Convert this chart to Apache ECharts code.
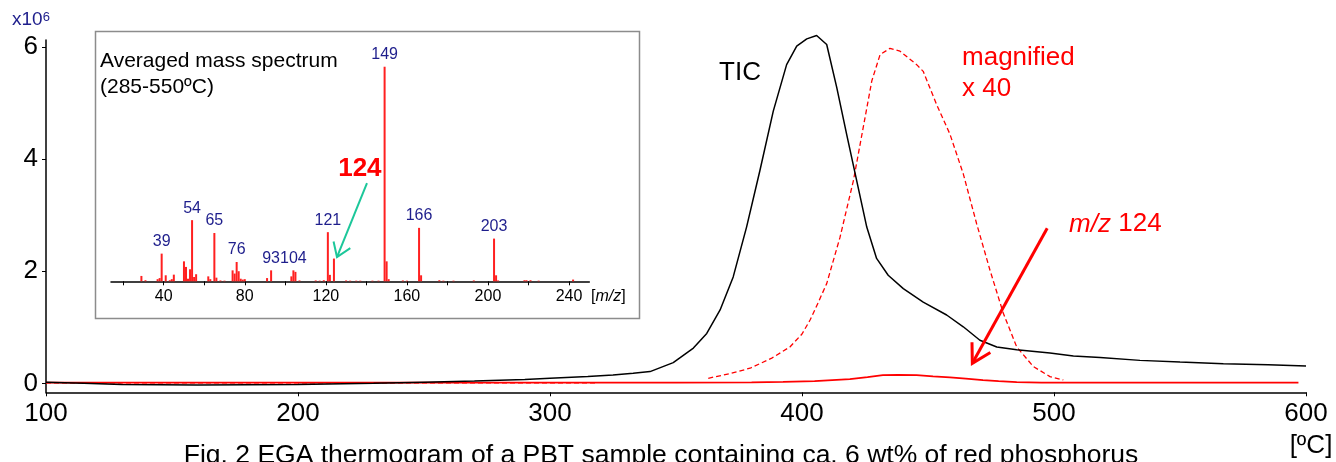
<!DOCTYPE html>
<html><head><meta charset="utf-8">
<script src="https://cdn.jsdelivr.net/npm/echarts@6/dist/echarts.min.js"></script>
<style>html,body{margin:0;padding:0;background:#fff}#c{width:1336px;height:462px}</style>
</head><body><div id="c"></div>
<script>
// ---- Main EGA thermogram data (temperature in degC, intensity x10^6) ----
const ticTemp = [100,115,130,160,200,230,250,270,290,300,315,325,333,339.7,348.9,356.9,362.2,367.5,372.7,378.0,383.3,388.6,393.9,397.9,401.9,405.8,409.8,413.8,417.7,421.7,425.7,429.6,434.2,440.2,448.1,457.4,464.0,470.6,477.3,485.2,498.4,507.7,518.3,534.1,550,567.2,585,600];
const ticVal  = [0.02,0.0,-0.02,-0.03,-0.02,0.0,0.02,0.04,0.07,0.09,0.12,0.15,0.18,0.21,0.37,0.63,0.89,1.31,1.90,2.79,3.80,4.86,5.69,6.02,6.15,6.21,6.05,5.28,4.45,3.62,2.79,2.23,1.93,1.69,1.45,1.22,1.01,0.77,0.65,0.60,0.54,0.49,0.46,0.41,0.38,0.35,0.33,0.31];

const mz124Temp = [100,200,300,350,380,392.5,405,419,426,432.1,438,445.5,452,458.7,465,471.8,478,485.2,495,597];
const mz124Val  = [0.012,0.012,0.012,0.013,0.018,0.025,0.04,0.075,0.11,0.145,0.152,0.145,0.125,0.107,0.085,0.058,0.038,0.02,0.012,0.012];

const magBaseTemp = [100,200,318];
const magBaseVal  = [0.01,0.01,0.01];
const magTemp = [362.8,371,379.4,388,395.2,400,403.2,406.5,409.8,415.1,420.4,424.3,427.7,431.0,434.9,438.9,445.5,448.1,453.4,458.7,464.0,469.3,474.6,479.9,485.2,491.8,498.4,503.7];
const magVal  = [0.09,0.17,0.27,0.45,0.65,0.88,1.13,1.45,1.78,2.61,3.62,4.57,5.40,5.87,5.98,5.93,5.69,5.57,4.98,4.45,3.74,2.85,2.02,1.25,0.65,0.30,0.12,0.06];

const mainXTicks = [100,200,300,400,500,600];
const mainYTicks = [0,2,4,6];

// ---- Inset averaged mass spectrum (m/z, relative intensity, 149 = 100) ----
const msMz  = [29,31,37,38,39,41,43,44,45,50,51,52,53,54,55,56,62,63,65,66,68,70,74,75,76,77,78,79,80,91,93,103,104,105,107,115,117,119,121,122,124,130,132,135,137,143,146,149,150,151,158,160,166,167,176,178,183,193,203,204,205,218,219,221,225,242];
const msInt = [2.5,0.5,1.0,1.5,12.9,2.8,0.5,1.0,3.1,9.3,6.7,1.2,5.6,28.5,2.0,3.3,2.3,1.0,22.5,1.7,0.4,0.3,5.1,3.6,9.0,4.7,1.2,0.8,1.0,1.5,5.1,2.3,5.1,4.4,0.4,0.4,0.3,0.5,22.9,3.0,10.6,0.4,0.3,0.3,0.3,0.3,0.3,100,9.3,1.0,0.4,0.3,24.9,2.8,0.5,0.3,0.3,0.4,19.9,2.8,0.4,0.5,0.5,0.5,0.3,0.8];
const msLabelled = [39,54,65,76,93,104,121,149,166,203];
const insetTicks = [20,40,60,80,100,120,140,160,180,200,220,240];
const insetLabels = [40,80,120,160,200,240];

// ---- annotations (data coordinates) ----
const ticText = [375.4, 5.55];
const magText = [463.5, 5.81];
const x40Text = [463.5, 5.25];
const mzText = [506.0, 2.84];
const redArrow = {tail:[497.3, 2.768], tip:[467.6, 0.357]};
const text124 = [136.8, 52.3];
const greenArrow = {tail:[140.3, 45.8], tip:[125.5, 11.3]};

const FONT = "'Liberation Sans', Arial, Helvetica, sans-serif";
const NAVY = '#1e1e8c';
const zip = (a,b) => a.map((t,i) => [t,b[i]]);

const chart = echarts.init(document.getElementById('c'));
const msData = msMz.map((m,i) => {
  const item = {value:[m, msInt[i]]};
  if (msLabelled.indexOf(m) >= 0) item.label = {show:true};
  return item;
});

const option = {
  animation:false,
  backgroundColor:'#fff',
  textStyle:{fontFamily:FONT},
  grid:[
    {left:46, top:40, width:1260, height:352.3},
    {left:111, top:56, width:478.3, height:225.3}
  ],
  xAxis:[
    {type:'value', gridIndex:0, min:100, max:600, interval:100,
     axisLine:{onZero:false, lineStyle:{color:'#000', width:1.5}},
     axisTick:{length:4, lineStyle:{color:'#000', width:1}},
     splitLine:{show:false},
     axisLabel:{fontSize:26, color:'#000', fontFamily:FONT, margin:9}},
    {type:'value', gridIndex:1, min:14, max:250,
     axisLine:{onZero:false, lineStyle:{color:'#000', width:1.5}},
     axisTick:{show:true, customValues:insetTicks, length:4, lineStyle:{color:'#000', width:1}},
     splitLine:{show:false},
     axisLabel:{customValues:insetLabels, fontSize:16, color:'#000', fontFamily:FONT, margin:7}}
  ],
  yAxis:[
    {type:'value', gridIndex:0, min:-0.16, max:6.13,
     axisLine:{show:true, onZero:false, lineStyle:{color:'#000', width:1.5}},
     axisTick:{show:true, customValues:mainYTicks, length:4, lineStyle:{color:'#000', width:1}},
     splitLine:{show:false},
     axisLabel:{customValues:mainYTicks, fontSize:26, color:'#000', fontFamily:FONT, margin:8}},
    {type:'value', gridIndex:1, min:0, max:105, show:false}
  ],
  series:[
    {name:'magnified base', type:'line', xAxisIndex:0, yAxisIndex:0, data:zip(magBaseTemp, magBaseVal),
     showSymbol:false, clip:false, lineStyle:{color:'#ff0000', width:1.3, type:[5,3]}, z:2},
    {name:'magnified x40', type:'line', xAxisIndex:0, yAxisIndex:0, data:zip(magTemp, magVal),
     showSymbol:false, clip:false, lineStyle:{color:'#ff0000', width:1.3, type:[5,3]}, z:2},
    {name:'m/z 124', type:'line', xAxisIndex:0, yAxisIndex:0, data:zip(mz124Temp, mz124Val),
     showSymbol:false, clip:false, lineStyle:{color:'#ff0000', width:1.8}, z:3},
    {name:'TIC', type:'line', xAxisIndex:0, yAxisIndex:0, data:zip(ticTemp, ticVal),
     showSymbol:false, clip:false, lineStyle:{color:'#000', width:1.5}, z:4},
    {name:'MS', type:'bar', xAxisIndex:1, yAxisIndex:1, data:msData, barWidth:2,
     itemStyle:{color:'#ff2020'},
     label:{show:false, position:'top', distance:4, color:NAVY, fontSize:16, fontFamily:FONT,
            formatter:p => String(p.value[0])}}
  ]
};
chart.setOption(option);

const P0 = v => chart.convertToPixel({gridIndex:0}, v);
const P1 = v => chart.convertToPixel({gridIndex:1}, v);
function arrow(tail, tip, len, ang, color, w) {
  const a = Math.atan2(tail[1]-tip[1], tail[0]-tip[0]);
  const b1 = [tip[0]+len*Math.cos(a+ang), tip[1]+len*Math.sin(a+ang)];
  const b2 = [tip[0]+len*Math.cos(a-ang), tip[1]+len*Math.sin(a-ang)];
  return [
    {type:'line', shape:{x1:tail[0], y1:tail[1], x2:tip[0], y2:tip[1]}, style:{stroke:color, lineWidth:w}, z:20},
    {type:'polyline', shape:{points:[b1, tip, b2]}, style:{stroke:color, lineWidth:w, fill:null}, z:20}
  ];
}
const txt = (x, y, text, extra) => Object.assign({type:'text', x:x, y:y, z:20,
  style:Object.assign({text:text, fontFamily:FONT, fontSize:26, fill:'#000', textAlign:'left', textVerticalAlign:'middle'}, extra||{})});

const tic = P0(ticText), mag = P0(magText), x40 = P0(x40Text), mzt = P0(mzText);
const t124 = P1(text124);
const graphics = [
  {type:'rect', shape:{x:95.5, y:31.5, width:544, height:287}, style:{stroke:'#8c8c8c', lineWidth:1.5, fill:null}, z:10},
  txt(100, 61.5, 'Averaged mass spectrum', {fontSize:21}),
  txt(100, 87, '(285-550ºC)', {fontSize:21}),
  txt(591, 297, '[{i|m/z}]', {fontSize:16, rich:{i:{fontStyle:'italic', fontSize:16, fontFamily:FONT}}}),
  txt(t124[0], t124[1], '124', {fontSize:26, fontWeight:'bold', fill:'#ff0000', textAlign:'center'}),
  txt(tic[0], tic[1], 'TIC', {textAlign:'center'}),
  txt(mag[0], mag[1], 'magnified', {fill:'#ff0000'}),
  txt(x40[0], x40[1], 'x 40', {fill:'#ff0000'}),
  txt(mzt[0], mzt[1], '{i|m/z} 124', {fill:'#ff0000', rich:{i:{fontStyle:'italic', fontSize:26, fontFamily:FONT, fill:'#ff0000'}}}),
  txt(12, 20, '{a|x10}{b|6}', {fill:NAVY, rich:{a:{fontSize:19, fontFamily:FONT, fill:NAVY, verticalAlign:'bottom'}, b:{fontSize:13, fontFamily:FONT, fill:NAVY, verticalAlign:'top'}}}),
  txt(1311, 446, '[ºC]', {textAlign:'center'}),
  txt(661, 456, 'Fig. 2 EGA thermogram of a PBT sample containing ca. 6 wt% of red phosphorus', {textAlign:'center', fontSize:26.5})
];
const ra = arrow(P0(redArrow.tail), P0(redArrow.tip), 21, Math.PI/6, '#ff0000', 3);
const ga = arrow(P1(greenArrow.tail), P1(greenArrow.tip), 16, 0.6, '#1cc79a', 2);
chart.setOption({graphic:graphics.concat(ra, ga)});
</script>
</body></html>
